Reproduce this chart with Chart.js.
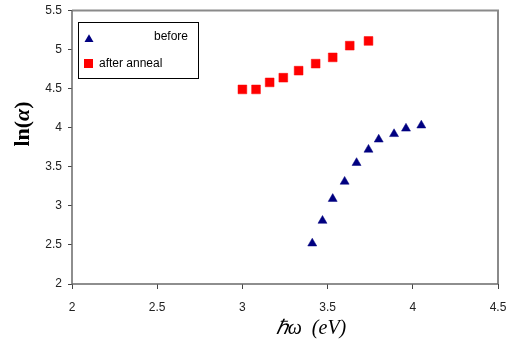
<!DOCTYPE html>
<html>
<head>
<meta charset="utf-8">
<script src="https://cdn.jsdelivr.net/npm/chart.js@4/dist/chart.umd.min.js"></script>
<style>
html,body{margin:0;padding:0;background:#fff;}
#wrap{width:508px;height:343px;position:relative;}
</style>
</head>
<body>
<div id="wrap"><canvas id="c" width="508" height="343"></canvas></div>
<script>
// Data
const beforeX = [3.41, 3.47, 3.53, 3.60, 3.67, 3.74, 3.80, 3.89, 3.96, 4.05];
const beforeY = [2.52, 2.81, 3.09, 3.31, 3.55, 3.72, 3.85, 3.92, 3.99, 4.03];
const afterX  = [3.00, 3.08, 3.16, 3.24, 3.33, 3.43, 3.53, 3.63, 3.74];
const afterY  = [4.49, 4.49, 4.58, 4.64, 4.73, 4.82, 4.90, 5.05, 5.11];
const xTicks = [2, 2.5, 3, 3.5, 4, 4.5];
const yTicks = [2, 2.5, 3, 3.5, 4, 4.5, 5, 5.5];
const seriesNames = ['before', 'after anneal'];
const xTitle = '\u210F\u03C9  (eV)';
const yTitleParts = ['ln(', '\u03B1', ')'];

const toPts = (xs, ys) => xs.map((x, i) => ({x: x, y: ys[i]}));

const overlay = {
  id: 'overlay',
  afterDraw(chart) {
    const ctx = chart.ctx;
    const a = chart.chartArea;
    ctx.save();
    // frame
    ctx.strokeStyle = '#8a8a8a';
    ctx.lineWidth = 2;
    ctx.beginPath();
    ctx.moveTo(a.left, a.top); ctx.lineTo(a.right, a.top); ctx.lineTo(a.right, a.bottom);
    ctx.stroke();
    ctx.strokeStyle = '#6a6a6a';
    ctx.lineWidth = 1.5;
    ctx.beginPath();
    ctx.moveTo(a.left, a.top); ctx.lineTo(a.left, a.bottom); ctx.lineTo(a.right, a.bottom);
    ctx.stroke();

    // legend box
    ctx.strokeStyle = '#000';
    ctx.lineWidth = 1;
    ctx.fillStyle = '#fff';
    ctx.fillRect(78.5, 22.5, 120, 56);
    ctx.strokeRect(78.5, 22.5, 120, 56);
    // triangle marker
    ctx.fillStyle = '#000080';
    ctx.beginPath();
    const tx = 89, ty = 39.5, r = 5.2;
    ctx.moveTo(tx, ty - r);
    ctx.lineTo(tx + r * 0.866, ty + r / 2);
    ctx.lineTo(tx - r * 0.866, ty + r / 2);
    ctx.closePath();
    ctx.fill();
    // square marker
    ctx.fillStyle = '#ff0000';
    ctx.fillRect(84, 59, 9, 9);
    // legend text
    ctx.fillStyle = '#000';
    ctx.font = '12px "Liberation Sans", Arial, sans-serif';
    ctx.textBaseline = 'middle';
    ctx.textAlign = 'right';
    ctx.fillText(seriesNames[0], 188, 37);
    ctx.textAlign = 'left';
    ctx.fillText(seriesNames[1], 99, 63.5);

    // x title
    ctx.font = 'italic 20px "Liberation Serif", "Times New Roman", serif';
    ctx.textAlign = 'center';
    ctx.textBaseline = 'alphabetic';
    ctx.fillText(xTitle, 311, 334);

    // y title (ln bold, alpha bold italic)
    ctx.translate(29, 124);
    ctx.rotate(-Math.PI / 2);
    const fN = 'bold 22px "Liberation Serif", "Times New Roman", serif';
    const fI = 'italic bold 22px "Liberation Serif", "Times New Roman", serif';
    const fonts = [fN, fI, fN];
    let total = 0;
    const widths = yTitleParts.map((t, i) => { ctx.font = fonts[i]; const w = ctx.measureText(t).width; total += w; return w; });
    let px = -total / 2;
    ctx.textAlign = 'left';
    yTitleParts.forEach((t, i) => { ctx.font = fonts[i]; ctx.fillText(t, px, 0); px += widths[i]; });
    ctx.restore();
  }
};

new Chart(document.getElementById('c'), {
  type: 'scatter',
  data: {
    datasets: [
      {
        label: seriesNames[0],
        data: toPts(beforeX, beforeY),
        pointStyle: 'triangle',
        pointRadius: 5.2,
        pointBorderWidth: 0.5,
        backgroundColor: '#000080',
        borderColor: '#000080'
      },
      {
        label: seriesNames[1],
        data: toPts(afterX, afterY),
        pointStyle: 'rect',
        pointRadius: 6.2,
        pointBorderWidth: 0.5,
        backgroundColor: '#ff0000',
        borderColor: '#ff0000'
      }
    ]
  },
  options: {
    responsive: false,
    animation: false,
    layout: { padding: { top: 10.5, right: 10, left: 0, bottom: 0 } },
    plugins: { legend: { display: false }, tooltip: { enabled: false } },
    scales: {
      x: {
        type: 'linear',
        min: 2, max: 4.5,
        afterBuildTicks(s) { s.ticks = xTicks.map(v => ({value: v})); },
        afterFit(s) { s.height = 59; s.paddingLeft = 0; s.paddingRight = 0; },
        grid: { drawOnChartArea: false, drawTicks: true, tickLength: 5, color: '#444', tickWidth: 1 },
        border: { display: false },
        ticks: { padding: 11, color: '#222', font: { family: '"Liberation Sans", Arial, sans-serif', size: 12 }, maxRotation: 0,
                 callback: v => String(v) }
      },
      y: {
        type: 'linear',
        min: 2, max: 5.5,
        afterBuildTicks(s) { s.ticks = yTicks.map(v => ({value: v})); },
        afterFit(s) { s.width = 72; s.paddingTop = 0; s.paddingBottom = 0; },
        grid: { drawOnChartArea: false, drawTicks: true, tickLength: 4, color: '#444', tickWidth: 1 },
        border: { display: false },
        ticks: { padding: 6, color: '#222', font: { family: '"Liberation Sans", Arial, sans-serif', size: 12 },
                 callback: v => String(v) }
      }
    }
  },
  plugins: [overlay]
});
</script>
</body>
</html>
